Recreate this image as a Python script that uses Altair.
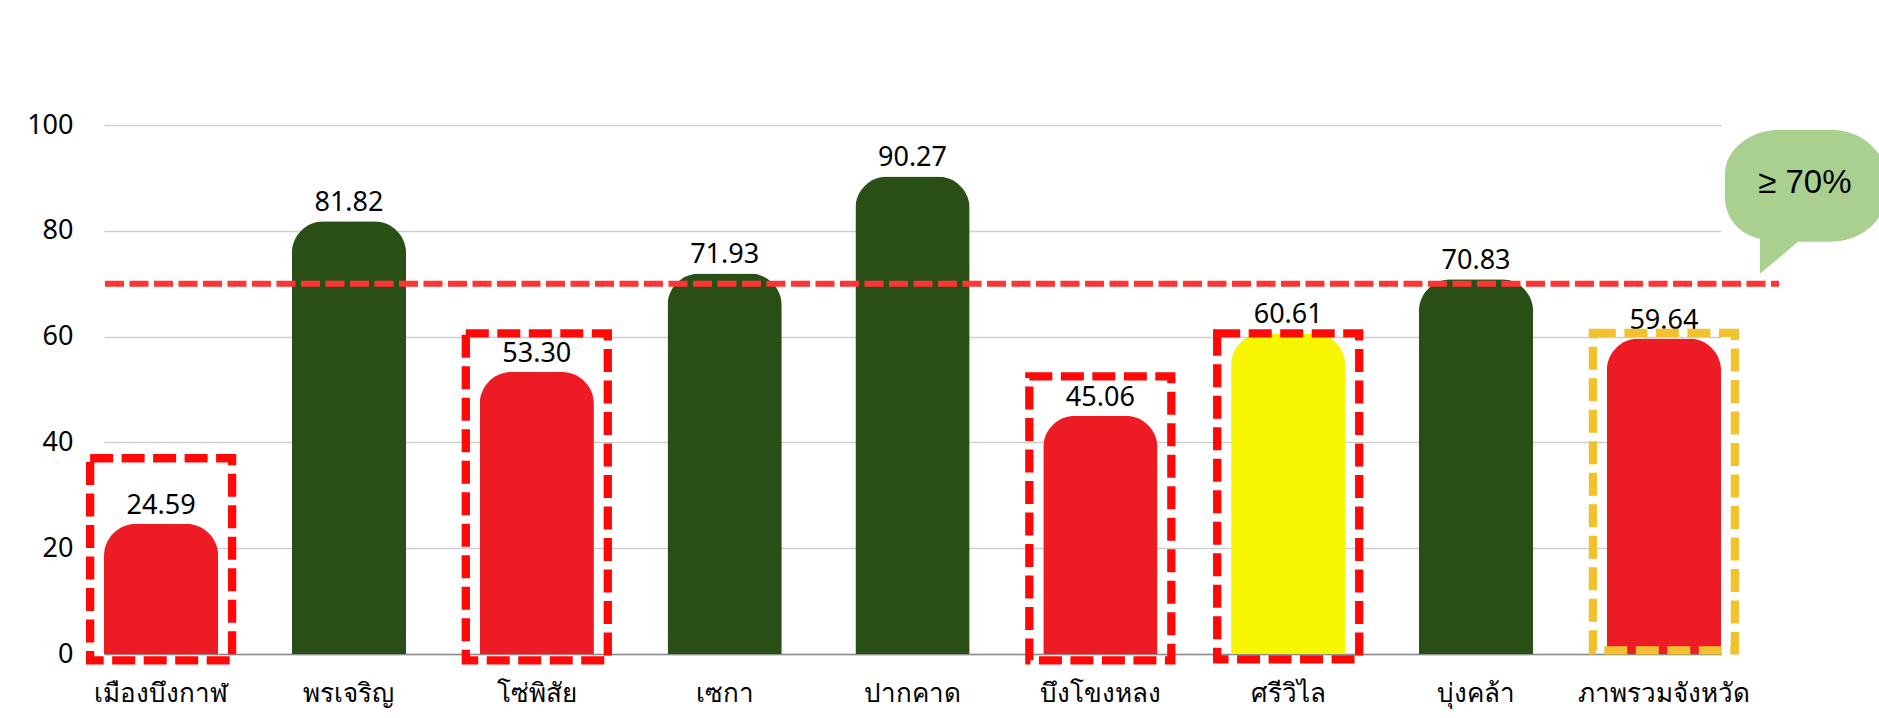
import altair as alt
import pandas as pd

# ---- data ----
districts = ["เมืองบึงกาฬ", "พรเจริญ", "โซ่พิสัย", "เซกา", "ปากคาด",
             "บึงโขงหลง", "ศรีวิไล", "บุ่งคล้า", "ภาพรวมจังหวัด"]
values = [24.59, 81.82, 53.30, 71.93, 90.27, 45.06, 60.61, 70.83, 59.64]
bar_colors = ["#ED1C24", "#294F17", "#ED1C24", "#294F17", "#294F17",
              "#ED1C24", "#F7F500", "#294F17", "#ED1C24"]

# dashed highlight boxes
box_districts = ["เมืองบึงกาฬ", "โซ่พิสัย", "บึงโขงหลง", "ศรีวิไล", "ภาพรวมจังหวัด"]
box_top = [37.0, 60.6, 52.5, 60.6, 60.7]
box_bottom = [-1.2, -1.2, -1.2, -1.0, 0.7]
box_colors = ["#FF0808", "#FF0808", "#FF0808", "#FF0808", "#F2C12E"]

threshold = [70]
y_ticks = [0, 20, 40, 60, 80, 100]

bubble_text = ["≥ 70%"]
bubble_anchor = ["ภาพรวมจังหวัด"]
bubble_y = [88.5]

df = pd.DataFrame({"district": districts, "value": values, "color": bar_colors,
                   "label": [f"{v:.2f}" for v in values]})
boxes = pd.DataFrame({"district": box_districts, "top": box_top,
                      "bottom": box_bottom, "color": box_colors})
thr = pd.DataFrame({"t": threshold})
bub = pd.DataFrame({"district": bubble_anchor, "y": bubble_y, "text": bubble_text})

W, H = 1617, 529
FONT = "Noto Sans"

xscale = alt.Scale(domain=districts, paddingInner=0.392, paddingOuter=0)
yscale = alt.Scale(domain=[0, 100], nice=False, zero=True)

x_enc = alt.X("district:N", scale=xscale, sort=districts,
              axis=alt.Axis(title=None, labelAngle=0, labelFontSize=26,
                            labelFont=FONT, labelColor="#000000",
                            labelPadding=26, ticks=False, domainColor="#8C8C8C",
                            domainWidth=1.5, grid=False))
y_enc = alt.Y("value:Q", scale=yscale,
              axis=alt.Axis(title=None, values=y_ticks, labelFontSize=27,
                            labelFont=FONT, labelColor="#000000", labelPadding=31,
                            ticks=False, domain=False, gridColor="#CFCFCF",
                            gridWidth=1.3))

bars = alt.Chart(df).mark_bar(cornerRadiusTopLeft=32, cornerRadiusTopRight=32).encode(
    x=x_enc, y=y_enc, color=alt.Color("color:N", scale=None)
)

labels = alt.Chart(df).mark_text(baseline="alphabetic", dy=-10, fontSize=27,
                                 font=FONT, color="#000000").encode(
    x=alt.X("district:N", scale=xscale, sort=districts),
    y=alt.Y("value:Q", scale=yscale),
    text="label:N",
)

rule = alt.Chart(thr).mark_rule(color="#FF3434", strokeWidth=6,
                                strokeDash=[19, 5.5]).encode(
    y=alt.Y("t:Q", scale=yscale),
    x=alt.value(1),
    x2=alt.value(W + 58),
)

box = alt.Chart(boxes).mark_bar(filled=False, width=142, strokeWidth=8.3,
                                strokeDash=[23, 8.5]).encode(
    x=alt.X("district:N", scale=xscale, sort=districts),
    y=alt.Y("top:Q", scale=yscale),
    y2="bottom:Q",
    stroke=alt.Stroke("color:N", scale=None),
)

bubble_path = ("M -0.25 -0.56 L 0.25 -0.56 C 0.5538 -0.56 0.80 -0.3585 0.80 -0.11 "
               "L 0.80 0.11 C 0.80 0.3585 0.5538 0.56 0.25 0.56 "
               "L -0.07 0.56 L -0.45 0.88 L -0.45 0.53 "
               "C -0.68 0.48 -0.80 0.30 -0.80 0.11 "
               "L -0.80 -0.11 C -0.80 -0.3585 -0.5538 -0.56 -0.25 -0.56 Z")

bubble = alt.Chart(bub).mark_point(shape=bubble_path, size=40000, filled=True,
                                   fill="#A9D08E", opacity=1, strokeWidth=0,
                                   xOffset=141).encode(
    x=alt.X("district:N", scale=xscale, sort=districts),
    y=alt.Y("y:Q", scale=yscale),
)

bubble_label = alt.Chart(bub).mark_text(fontSize=33, font="Liberation Sans",
                                        color="#000000", xOffset=141, dy=-3,
                                        baseline="middle").encode(
    x=alt.X("district:N", scale=xscale, sort=districts),
    y=alt.Y("y:Q", scale=yscale),
    text="text:N",
)

chart = alt.layer(bars, labels, rule, box, bubble, bubble_label).properties(
    width=W, height=H,
    autosize=alt.AutoSizeParams(type="none"),
    padding={"left": 104, "top": 125, "right": 1879 - 104 - W, "bottom": 718 - 125 - H},
    background="#FFFFFF",
).configure_view(stroke=None)

chart.save("out.html", embed_options={"renderer": "svg", "actions": False})
